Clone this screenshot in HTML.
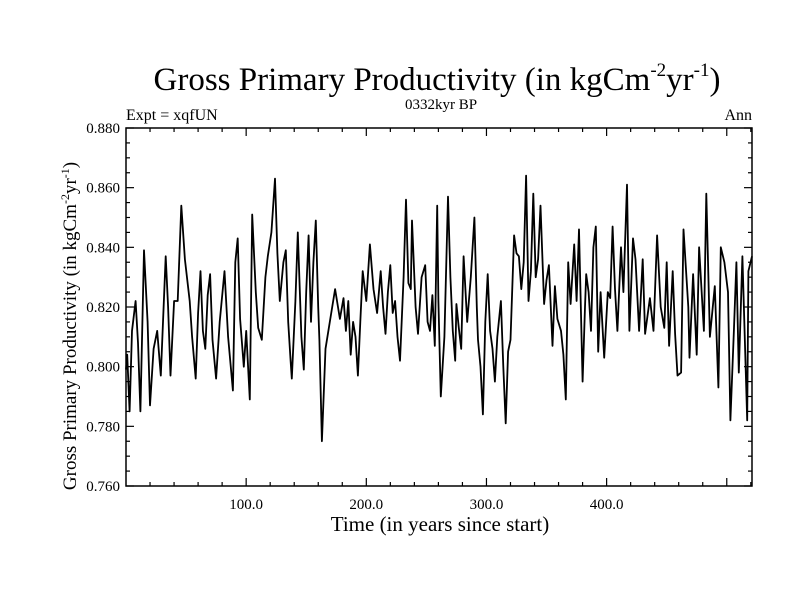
<!DOCTYPE html>
<html><head><meta charset="utf-8"><style>
body{margin:0;background:#fff}
svg text{font-family:"Liberation Serif",serif;fill:#000}
</style></head><body>
<svg width="800" height="600">
<text x="437" y="90" font-size="33" text-anchor="middle">Gross Primary Productivity (in kgCm<tspan font-size="19" dy="-14">-2</tspan><tspan dy="14">yr</tspan><tspan font-size="19" dy="-14">-1</tspan><tspan dy="14">)</tspan></text>
<text x="441" y="109" font-size="15" text-anchor="middle">0332kyr BP</text>
<text x="126" y="120" font-size="16">Expt = xqfUN</text>
<text x="752" y="120" font-size="16" text-anchor="end">Ann</text>
<text x="440" y="531" font-size="21" text-anchor="middle">Time (in years since start)</text>
<text transform="translate(76,326) rotate(-90)" font-size="19" text-anchor="middle">Gross Primary Productivity (in kgCm<tspan font-size="12" dy="-7">-2</tspan><tspan dy="7">yr</tspan><tspan font-size="12" dy="-7">-1</tspan><tspan dy="7">)</tspan></text>
<g id="axes"></g>
<path id="line" fill="none" stroke="#000" stroke-width="1.8" stroke-linejoin="round"/>
<rect x="126" y="128" width="626" height="358" fill="none" stroke="#000" stroke-width="1.5"/>
</svg>
<script>
const years=[0,1,3,5,8,10,12,15,18,20,23,26,29,33,35,37,40,43,46,49,53,55,58,60,62,64,66,68,70,72,75,78,82,85,89,91,93,95,98,100,103,105,108,110,113,116,118,121,124,126,128,131,133,135,137,138,141,143,146,148,150,152,154,156,158,160,161,163,166,170,174,178,181,183,185,187,189,191,193,195,197,200,203,206,209,212,214,216,218,220,222,224,226,228,231,233,235,237,238,241,243,246,249,251,253,255,257,259,260,262,265,268,270,272,274,275,277,279,281,284,287,290,292,293,295,297,299,301,303,305,307,309,312,314,316,318,320,323,325,327,329,331,333,335,337,339,341,343,345,348,350,352,355,357,359,362,364,366,368,370,373,375,377,380,382,383,385,387,389,391,393,395,398,401,403,405,407,409,412,414,417,419,422,424,427,430,432,436,439,442,445,448,450,452,455,457,459,462,464,468,469,472,475,477,481,483,486,490,493,495,498,501,503,506,508,510,513,517,518,521];
const gpp=[0.799,0.804,0.785,0.812,0.822,0.808,0.785,0.839,0.815,0.787,0.806,0.812,0.797,0.837,0.820,0.797,0.822,0.822,0.854,0.836,0.822,0.810,0.796,0.818,0.832,0.812,0.806,0.824,0.831,0.809,0.796,0.815,0.832,0.810,0.792,0.835,0.843,0.816,0.800,0.812,0.789,0.851,0.825,0.813,0.809,0.830,0.837,0.845,0.863,0.838,0.822,0.835,0.839,0.815,0.802,0.796,0.822,0.845,0.810,0.799,0.825,0.844,0.815,0.835,0.849,0.820,0.809,0.775,0.806,0.816,0.826,0.816,0.823,0.812,0.822,0.804,0.815,0.810,0.797,0.815,0.832,0.822,0.841,0.826,0.818,0.832,0.820,0.811,0.825,0.834,0.818,0.822,0.810,0.802,0.830,0.856,0.828,0.826,0.849,0.820,0.811,0.830,0.834,0.815,0.812,0.824,0.807,0.854,0.822,0.790,0.810,0.857,0.830,0.812,0.802,0.821,0.813,0.806,0.837,0.815,0.830,0.850,0.820,0.809,0.800,0.784,0.815,0.831,0.812,0.806,0.795,0.810,0.822,0.800,0.781,0.805,0.809,0.844,0.838,0.837,0.826,0.835,0.864,0.822,0.832,0.858,0.830,0.836,0.854,0.821,0.829,0.834,0.807,0.827,0.816,0.812,0.804,0.789,0.835,0.821,0.841,0.822,0.846,0.795,0.820,0.831,0.825,0.812,0.840,0.847,0.805,0.825,0.803,0.825,0.823,0.847,0.826,0.812,0.840,0.825,0.861,0.812,0.843,0.836,0.812,0.836,0.811,0.823,0.812,0.844,0.820,0.813,0.835,0.807,0.832,0.811,0.797,0.798,0.846,0.820,0.803,0.831,0.804,0.840,0.812,0.858,0.810,0.827,0.793,0.840,0.835,0.825,0.782,0.813,0.835,0.798,0.837,0.782,0.832,0.837,0.845,0.803,0.825];
const yTicks=[0.760,0.780,0.800,0.820,0.840,0.860,0.880];
const xTicks=[100,200,300,400];
const X0=126,X1=752,Y0=486,Y1=128,XMIN=0,XMAX=521,YMIN=0.76,YMAX=0.88;
const sx=v=>X0+(v-XMIN)/(XMAX-XMIN)*(X1-X0);
const sy=v=>Y0-(v-YMIN)/(YMAX-YMIN)*(Y0-Y1);
const NS='http://www.w3.org/2000/svg';
const ax=document.getElementById('axes');
function ln(x1,y1,x2,y2,name){const l=document.createElementNS(NS,'line');l.setAttribute('x1',x1);l.setAttribute('y1',y1);l.setAttribute('x2',x2);l.setAttribute('y2',y2);l.setAttribute('stroke','#000');l.setAttribute('stroke-width','1.2');


ax.appendChild(l);}
function tx(x,y,s,anchor,name){const t=document.createElementNS(NS,'text');t.setAttribute('x',x);t.setAttribute('y',y);t.setAttribute('font-size','15');t.setAttribute('text-anchor',anchor);t.textContent=s;


ax.appendChild(t);}
for(let v=0.76;v<=0.8801;v+=0.005){const y=sy(v);const major=Math.abs(Math.round(v*1000)%20)<1;const L=major?8:4;ln(X0,y,X0+L,y,'y-tick');ln(X1,y,X1-L,y,'y-tick');}
yTicks.forEach(v=>tx(X0-6,sy(v)+5,v.toFixed(3),'end','y-tick-label'));
for(let v=20;v<XMAX;v+=20){const x=sx(v);const L=(v%100===0)?8:4;ln(x,Y0,x,Y0-L,'x-tick');ln(x,Y1,x,Y1+L,'x-tick');}
xTicks.forEach(v=>tx(sx(v),Y0+23,v.toFixed(1),'middle','x-tick-label'));
document.getElementById('line').setAttribute('d',years.map((t,i)=>(i?'L':'M')+sx(t).toFixed(1)+','+sy(gpp[i]).toFixed(1)).join(''));
</script>
</body></html>
